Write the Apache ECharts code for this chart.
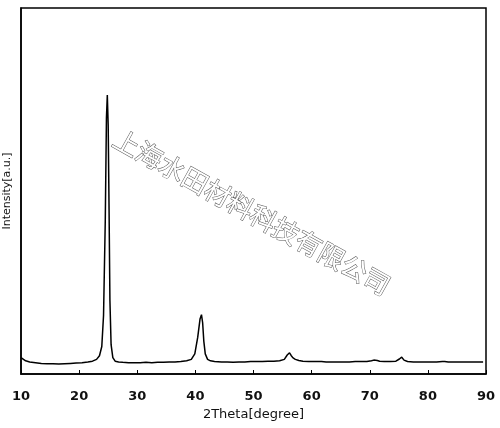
<!DOCTYPE html>
<html><head><meta charset="utf-8">
<script src="https://cdn.jsdelivr.net/npm/echarts@6/dist/echarts.min.js"></script>
<style>html,body{margin:0;background:#fff}#c{width:500px;height:428px}</style>
</head><body><div id="c"></div>
<script>
// 2theta (degree) and intensity
const twoTheta = [10,10.3,10.8,11.5,12.5,13.5,14.5,15.5,16.5,17.5,18.5,19.5,20.5,21.5,22.3,23,23.5,23.9,24.2,24.5,24.7,24.85,25,25.15,25.3,25.5,25.8,26.2,26.8,27.5,28.5,29.5,30.5,31.5,32.5,33.5,34.5,35.5,36.5,37.5,38.5,39.3,39.9,40.4,40.8,41.05,41.25,41.45,41.7,42.1,42.6,43.3,44.5,45.5,46.5,47.5,48.5,49.5,50.5,51.5,52.5,53.5,54.5,55.3,55.8,56.2,56.5,56.8,57.2,57.8,58.5,59.5,60.5,61.3,61.5,61.7,62.5,63.5,64.5,65.5,66.5,67.5,68.5,69.5,70.3,70.7,71,71.3,71.7,72.5,73.5,74.5,75.1,75.5,75.9,76.5,77.5,78.5,79.5,80.5,81.5,82.5,82.7,82.9,83.5,84.5,85.5,86.5,87.5,88.5,89.5,90];
const intensity = [45,40,36,33,31,29,28,28,27,28,29,30,31,33,35,40,50,75,160,420,700,762,680,450,200,80,45,35,33,32,31,31,31,32,31,32,32,33,33,34,36,40,55,100,150,162,140,90,55,40,36,34,33,33,32,33,33,34,34,34,35,35,36,40,52,58,50,44,40,37,35,34,34,34,39,34,33,33,33,33,33,34,34,34,36,38,40,37,35,34,34,35,41,46,38,34,33,33,33,33,33,34,37,34,33,33,33,33,33,33,33];
const xTicks = [10,20,30,40,50,60,70,80,90];

const chart = echarts.init(document.getElementById('c'));
chart.setOption({
  animation: false,
  grid: {left: 21, right: 14, top: 8, bottom: 54, outerBoundsMode: 'none', containLabel: false,
    show: true, borderColor: '#000', borderWidth: 1.5},
  xAxis: {
    type: 'value', min: 10, max: 90, interval: 10,
    name: '2Theta[degree]', nameLocation: 'middle', nameGap: 29,
    nameTextStyle: {fontFamily: 'DejaVu Sans', fontSize: 13, color: '#111'},
    axisLine: {lineStyle: {color: '#000', width: 1.5}},
    axisTick: {inside: true, length: 4, lineStyle: {color: '#000'}},
    axisLabel: {fontFamily: 'DejaVu Sans', fontSize: 13, fontWeight: 'bold', color: '#111', margin: 16,
      formatter: v => xTicks.includes(v) ? String(v) : ''},
    splitLine: {show: false}
  },
  yAxis: {
    type: 'value', min: 0, max: 1000,
    name: 'Intensity[a.u.]', nameLocation: 'middle', nameGap: 8,
    nameTextStyle: {fontFamily: 'DejaVu Sans', fontSize: 11, color: '#111', verticalAlign: 'bottom'},
    axisLine: {show: true, lineStyle: {color: '#000', width: 1.5}},
    axisTick: {show: false}, axisLabel: {show: false}, splitLine: {show: false}
  },
  graphic: [{
    type: 'text', x: 252, y: 212, rotation: -Math.PI / 6.2,
    style: {text: '上海水田材料科技有限公司', fontFamily: 'Noto Sans CJK SC', fontSize: 26,
      fill: '#fff', stroke: '#555', lineWidth: 1, align: 'center', verticalAlign: 'middle'},
    z: 100
  }],
  series: [{
    type: 'line', showSymbol: false, data: twoTheta.map((x, i) => [x, intensity[i]]),
    lineStyle: {color: '#000', width: 1.5}
  }]
});
</script></body></html>
